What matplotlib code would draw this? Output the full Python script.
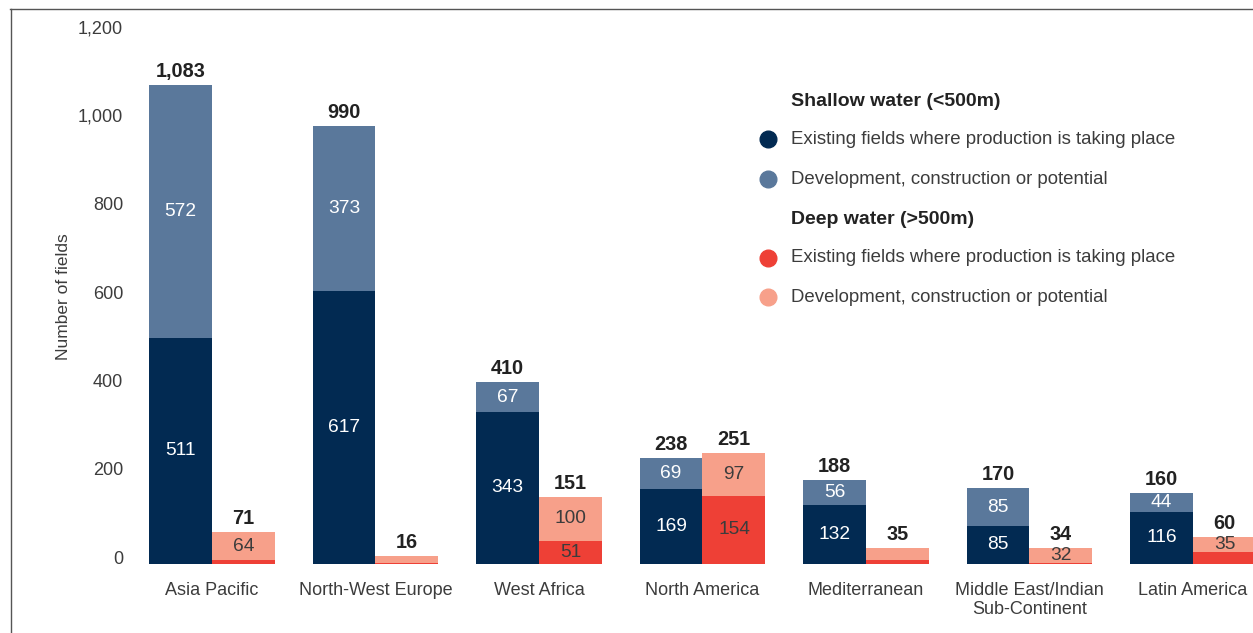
import numpy as np
import matplotlib.pyplot as plt
from matplotlib.lines import Line2D

plt.rcParams['font.family'] = ['Liberation Sans', 'DejaVu Sans']

# data
regions = ['Asia Pacific', 'North-West Europe', 'West Africa', 'North America',
           'Mediterranean', 'Middle East/Indian\nSub-Continent', 'Latin America']
shallow_prod = [511, 617, 343, 169, 132, 85, 116]
shallow_dev = [572, 373, 67, 69, 56, 85, 44]
deep_prod = [7, 2, 51, 154, 9, 2, 25]
deep_dev = [64, 14, 100, 97, 26, 32, 35]
shallow_total = [1083, 990, 410, 238, 188, 170, 160]
deep_total = [71, 16, 151, 251, 35, 34, 60]
deep_prod_labels = ['', '', '51', '154', '', '', '']
deep_dev_labels = ['64', '', '100', '97', '', '32', '35']
yticks = [0, 200, 400, 600, 800, 1000, 1200]
ytick_labels = ['0', '200', '400', '600', '800', '1,000', '1,200']

navy = '#022a52'
slate = '#5a789b'
red = '#ee4036'
salmon = '#f7a08a'
txt = '#3c3c3c'

W, H = 1253, 633
fig = plt.figure(figsize=(W / 100, H / 100), dpi=100)
ax = fig.add_axes([130 / W, (H - 563.5) / H, 1123 / W, (563.5 - 33.7) / H])

x = np.arange(len(regions))
bw = 0.385
xs = x - bw / 2
xd = x + bw / 2

ax.bar(xs, shallow_prod, bw, color=navy)
ax.bar(xs, shallow_dev, bw, bottom=shallow_prod, color=slate)
ax.bar(xd, deep_prod, bw, color=red)
ax.bar(xd, deep_dev, bw, bottom=deep_prod, color=salmon)

fs = 13.8
for i in range(len(regions)):
    ax.text(xs[i], shallow_prod[i] / 2, str(shallow_prod[i]), ha='center', va='center',
            color='white', fontsize=fs)
    ax.text(xs[i], shallow_prod[i] + shallow_dev[i] / 2, str(shallow_dev[i]), ha='center',
            va='center', color='white', fontsize=fs)
    if deep_prod_labels[i]:
        ax.text(xd[i], deep_prod[i] / 2, deep_prod_labels[i], ha='center', va='center',
                color=txt, fontsize=fs)
    if deep_dev_labels[i]:
        ax.text(xd[i], deep_prod[i] + deep_dev[i] / 2, deep_dev_labels[i], ha='center',
                va='center', color=txt, fontsize=fs)
    top_s = shallow_prod[i] + shallow_dev[i]
    top_d = deep_prod[i] + deep_dev[i]
    ax.annotate(f'{shallow_total[i]:,}', (xs[i], top_s), xytext=(0, 3), textcoords='offset points',
                ha='center', va='bottom', fontsize=14.3, fontweight='bold', color='#222222')
    ax.annotate(f'{deep_total[i]:,}', (xd[i], top_d), xytext=(0, 3), textcoords='offset points',
                ha='center', va='bottom', fontsize=14.3, fontweight='bold', color='#222222')

ax.set_xlim(-0.5015, 6.367)
ax.set_ylim(0, 1200)
ax.set_xticks(x, regions)
ax.set_yticks(yticks, ytick_labels)
ax.tick_params(length=0, labelsize=13, labelcolor=txt)
ax.tick_params(axis='x', pad=13)
ax.tick_params(axis='y', pad=5)
for lab in ax.get_yticklabels():
    lab.set_va('baseline')
for s in ax.spines.values():
    s.set_visible(False)

fig.text(63 / W, 1 - 297 / H, 'Number of fields', rotation=90, ha='center', va='center',
         fontsize=12.5, color=txt)

# legend drawn by hand
leg_rows = [
    ('Shallow water (<500m)', None, 102),
    ('Existing fields where production is taking place', navy, 139),
    ('Development, construction or potential', slate, 179),
    ('Deep water (>500m)', None, 220),
    ('Existing fields where production is taking place', red, 258),
    ('Development, construction or potential', salmon, 297),
]
for label, col, py in leg_rows:
    if col is None:
        fig.text(791 / W, 1 - py / H, label, ha='left', va='center', fontsize=14,
                 fontweight='bold', color='#222222')
    else:
        fig.add_artist(Line2D([768 / W], [1 - py / H], marker='o', markersize=12,
                              color=col, linestyle='none', transform=fig.transFigure))
        fig.text(791 / W, 1 - py / H, label, ha='left', va='center', fontsize=13.4, color=txt)

# frame lines
fig.add_artist(Line2D([10 / W, 1], [1 - 8.5 / H, 1 - 8.5 / H], color='#555555', lw=1,
                      transform=fig.transFigure))
fig.add_artist(Line2D([10.5 / W, 10.5 / W], [0, 1 - 8.5 / H], color='#555555', lw=1,
                      transform=fig.transFigure))

fig.savefig('out.png', dpi=100)
